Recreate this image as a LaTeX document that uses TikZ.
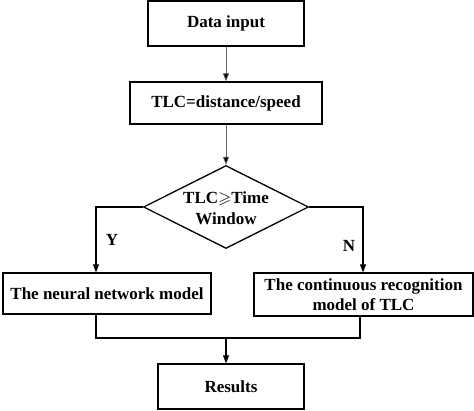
\documentclass[tikz,border=0pt]{standalone}
\usepackage{fontspec}
\setmainfont{Liberation Serif}
\usepackage{amssymb}
\usetikzlibrary{arrows.meta,shapes.geometric}
\begin{document}
\begin{tikzpicture}[x=1pt,y=-1pt,
  txt/.style={font=\fontsize{17}{20.5}\selectfont\bfseries,align=center},
  box/.style={txt,draw,line width=1.3pt,inner sep=0pt},
  dia/.style={txt,draw,line width=1.3pt,shape=diamond,inner sep=0pt},
  grayarrow/.style={draw=black!60,line width=0.7pt,-{Triangle[length=8pt,width=6pt,fill=black]}},
  conn/.style={draw,line width=1.1pt},
  arrow/.style={conn,-{Triangle[length=8pt,width=6pt]}}]
\useasboundingbox (0,0) rectangle (474,411);
\node[box,minimum width=156pt,minimum height=45pt] (data) at (226,23.5) {Data input};
\node[box,minimum width=192pt,minimum height=42pt] (tlc) at (226,103) {TLC=distance/speed};
\node[dia,minimum width=165pt,minimum height=83pt] (dec) at (226,207) {};
\node[txt,inner sep=0pt] (dectext) at (226,208) {TLC$\geqslant$Time\\Window};
\node[box,minimum width=208pt,minimum height=41pt] (left) at (107,293.5) {The neural network model};
\node[box,minimum width=219pt,minimum height=43pt] (right) at (363.5,294.5) {The continuous recognition\\model of TLC};
\node[box,minimum width=146pt,minimum height=45pt] (res) at (231,386.5) {Results};
\coordinate (yl) at (96,207);
\coordinate (yr) at (363,207);
\coordinate (ml) at (96,338);
\coordinate (mr) at (360,338);
\coordinate (m) at (226,338);
\node[txt,inner sep=0pt] (ylab) at (112,240) {Y};
\node[txt,inner sep=0pt] (nlab) at (349,246) {N};
\draw[grayarrow] (data) -- (tlc);
\draw[grayarrow] (tlc) -- (dec);
\draw[arrow] (dec.west) -- (yl) -- (yl |- left.north);
\draw[arrow] (dec.east) -- (yr) -- (yr |- right.north);
\draw[conn] (yl |- left.south) -- (ml) -- (mr) -- (mr |- right.south);
\draw[arrow] (m) -- (m |- res.north);
\end{tikzpicture}
\end{document}
